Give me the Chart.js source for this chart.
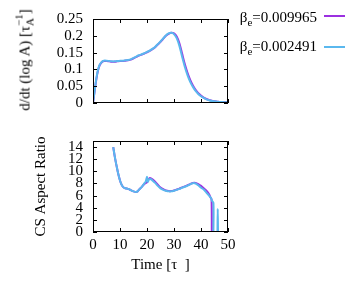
<!DOCTYPE html>
<html>
<head>
<meta charset="utf-8">
<script src="https://cdn.jsdelivr.net/npm/chart.js@4"></script>
<style>
body { margin: 0; background: #fff; }
#wrap { position: relative; width: 364px; height: 284px; font-family: "Liberation Serif", serif; color: #000; }
canvas { position: absolute; left: 0; }
#cTop { top: 0; }
#cBot { top: 122px; }
.ytitle { position: absolute; white-space: nowrap; font-size: 15px; line-height: 18px; transform: translate(-50%, -50%) rotate(-90deg); }
.ytitle .sb { font-size: 11px; position: relative; top: 4px; }
.ytitle .sp { font-size: 11px; position: relative; top: -7px; margin-left: -8px; }
.leg { position: absolute; right: 47px; font-size: 15px; line-height: 18px; white-space: nowrap; }
.leg .sb { font-size: 11px; position: relative; top: 4px; }
.sample { position: absolute; left: 324px; width: 21px; height: 2px; }
</style>
</head>
<body>
<div id="wrap">
  <canvas id="cTop" width="364" height="122"></canvas>
  <canvas id="cBot" width="364" height="162"></canvas>
  <div class="ytitle" style="left:25px; top:60px;">d/dt (log A) [τ<span class="sb">A</span><span class="sp">−1</span>]</div>
  <div class="leg" style="top:8px;">β<span class="sb">e</span>=0.009965</div>
  <div class="sample" style="top:15px; background:#9b30e0;"></div>
  <div class="leg" style="top:37px;">β<span class="sb">e</span>=0.002491</div>
  <div class="sample" style="top:46px; background:#5ab8ee;"></div>
</div>
<script>
// series labels
var labelPurple = 'βe=0.009965'
var labelBlue = 'βe=0.002491'

// top panel: growth rate
var topTime = [0, 0.5, 1, 1.5, 2, 2.5, 3, 3.5, 4, 5, 6, 7, 8, 9, 10, 11, 12, 13, 14, 15, 16, 17, 18, 19, 20,
   21, 22, 23, 24, 25, 26, 27, 28, 29, 30, 31, 32, 33, 34, 35, 36, 37, 38, 39, 40, 41, 42, 43, 44, 45, 46, 47, 48, 49, 50]
var topBlue = [0, 0.03, 0.06, 0.085, 0.103, 0.114, 0.120, 0.124, 0.126, 0.126, 0.125, 0.124, 0.124, 0.125, 0.1255,
   0.126, 0.127, 0.128, 0.130, 0.134, 0.138, 0.142, 0.145, 0.148, 0.152, 0.156, 0.161, 0.167, 0.175, 0.183, 0.192,
   0.201, 0.207, 0.209, 0.205, 0.193, 0.170, 0.138, 0.108, 0.083, 0.063, 0.048, 0.036, 0.027, 0.020, 0.015, 0.011,
   0.008, 0.006, 0.005, 0.004, 0.003, 0.003, 0.002, 0.002]
var topPurple = [0, 0.029, 0.058, 0.083, 0.101, 0.113, 0.119, 0.123, 0.125, 0.125, 0.124, 0.123, 0.123, 0.124, 0.125,
   0.125, 0.126, 0.127, 0.129, 0.133, 0.137, 0.141, 0.144, 0.147, 0.151, 0.155, 0.160, 0.166, 0.174, 0.182, 0.191,
   0.200, 0.206, 0.209, 0.207, 0.198, 0.178, 0.147, 0.116, 0.090, 0.069, 0.052, 0.039, 0.029, 0.022, 0.016, 0.012,
   0.009, 0.007, 0.005, 0.004, 0.003, 0.003, 0.002, 0.002]

// bottom panel: current sheet aspect ratio
var botTimeBlue = [7.5, 8, 8.5, 9, 9.5, 10, 10.5, 11, 11.5, 12, 13, 14, 15, 16, 16.5, 17, 18, 19, 19.5, 20, 20.3, 20.8,
   21.5, 22, 23, 24, 25, 26, 27, 28, 29, 30, 31, 32, 33, 34, 35, 36, 37, 38, 39, 40, 41, 42, 43, 43.7, 44, 44.6, 44.6,
   45.5, 46.1, 46.2, 46.3]
var botBlue = [14.0, 12.6, 11.4, 10.3, 9.3, 8.5, 7.9, 7.5, 7.3, 7.2, 7.1, 6.9, 6.7, 6.6, 6.7, 6.95, 7.4, 8.0, 8.3, 9.1, 8.3, 8.7,
   8.7, 8.5, 8.1, 7.6, 7.2, 6.95, 6.8, 6.7, 6.7, 6.8, 6.95, 7.1, 7.3, 7.45, 7.65, 7.85, 8.05, 8.0, 7.7, 7.3, 7.0, 6.5, 6.0,
   5.6, 5.2, 4.8, 0, null, 0, 3.8, 0]
var botTimePurple = [7.5, 8, 8.5, 9, 9.5, 10, 10.5, 11, 11.5, 12, 13, 14, 15, 16, 16.5, 17, 18, 19, 20, 20.5, 21, 21.5,
   22, 23, 24, 25, 26, 27, 28, 29, 30, 31, 32, 33, 34, 35, 36, 37, 38, 39, 40, 41, 42, 43, 43.5, 43.9, 44]
var botPurple = [14.0, 12.6, 11.4, 10.3, 9.3, 8.5, 7.9, 7.5, 7.3, 7.2, 7.1, 6.9, 6.7, 6.6, 6.7, 6.95, 7.4, 7.9, 8.2, 8.6, 8.9,
   8.85, 8.7, 8.3, 7.8, 7.35, 7.05, 6.85, 6.75, 6.75, 6.85, 7.0, 7.15, 7.35, 7.5, 7.7, 7.9, 8.1, 8.1, 7.9, 7.6, 7.2, 6.8,
   6.2, 5.7, 5.4, 0]

// ticks
var xTicks = [0, 10, 20, 30, 40, 50]
var xTickLabels = ['0', '10', '20', '30', '40', '50']
var topYTicks = [0, 0.05, 0.1, 0.15, 0.2, 0.25]
var topYTickLabels = ['0', '0.05', '0.1', '0.15', '0.2', '0.25']
var botYTicks = [0, 2, 4, 6, 8, 10, 12, 14]
var botYTickLabels = ['0', '2', '4', '6', '8', '10', '12', '14']

var purple = '#9b30e0'
var blue = '#5ab8ee'
var tickFont = { family: 'Liberation Serif', size: 15 }

function toPoints(xs, ys){
   var pts = []
   for (var i = 0; i < xs.length; i++) {
      pts.push({ x: xs[i], y: ys[i] })
   }
   return pts
}

// gnuplot style frame with inward ticks on all four sides
var framePlugin = {
   id: 'frame',
   afterDraw(chart, args, opts) {
      const ctx = chart.ctx
      const a = chart.chartArea
      const xs = chart.scales.x
      const ys = chart.scales.y
      ctx.save()
      ctx.strokeStyle = '#000'
      ctx.lineWidth = 1
      ctx.strokeRect(a.left + 0.5, a.top + 0.5, a.right - a.left - 1, a.bottom - a.top - 1)
      ctx.beginPath()
      for (const v of xTicks) {
         const px = Math.round(xs.getPixelForValue(v)) + 0.5
         ctx.moveTo(px, a.bottom); ctx.lineTo(px, a.bottom - 4)
         ctx.moveTo(px, a.top); ctx.lineTo(px, a.top + 4)
      }
      for (const v of opts.yTicks) {
         const py = Math.round(ys.getPixelForValue(v)) + 0.5
         ctx.moveTo(a.left, py); ctx.lineTo(a.left + 4, py)
         ctx.moveTo(a.right, py); ctx.lineTo(a.right - 4, py)
      }
      ctx.stroke()
      ctx.restore()
   }
}

function yScale(max, ticks, labels){
   return {
      type: 'linear', min: 0, max: max,
      afterBuildTicks: s => { s.ticks = ticks.map(v => ({ value: v })) },
      afterFit: s => { s.width = 93 },
      grid: { display: false, drawTicks: false },
      border: { display: false },
      ticks: { font: tickFont, color: '#000', padding: 10, autoSkip: false, callback: (v, i) => labels[i] }
   }
}

function lineSet(label, pts, color, order){
   return {
      label: label, data: pts, borderColor: color, borderWidth: 2,
      pointRadius: 0, tension: 0.3, spanGaps: false, order: order
   }
}

new Chart(document.getElementById('cTop'), {
   type: 'line',
   data: {
      datasets: [
         lineSet(labelPurple, toPoints(topTime, topPurple), purple, 1),
         lineSet(labelBlue, toPoints(topTime, topBlue), blue, 0)
      ]
   },
   options: {
      responsive: false, animation: false,
      layout: { padding: { top: 10, right: 136, bottom: 11, left: 0 } },
      plugins: { legend: { display: false }, tooltip: { enabled: false }, frame: { yTicks: topYTicks } },
      scales: {
         x: { type: 'linear', min: 0, max: 50, display: false },
         y: yScale(0.25, topYTicks, topYTickLabels)
      }
   },
   plugins: [framePlugin]
})

new Chart(document.getElementById('cBot'), {
   type: 'line',
   data: {
      datasets: [
         lineSet(labelPurple, toPoints(botTimePurple, botPurple), purple, 1),
         lineSet(labelBlue, toPoints(botTimeBlue, botBlue), blue, 0)
      ]
   },
   options: {
      responsive: false, animation: false,
      layout: { padding: { top: 7, right: 136, bottom: 0, left: 0 } },
      plugins: { legend: { display: false }, tooltip: { enabled: false }, frame: { yTicks: botYTicks } },
      scales: {
         x: {
            type: 'linear', min: 0, max: 50,
            afterBuildTicks: s => { s.ticks = xTicks.map(v => ({ value: v })) },
            afterFit: s => { s.height = 52 },
            grid: { display: false, drawTicks: false },
            border: { display: false },
            ticks: { font: tickFont, color: '#000', padding: 4, maxRotation: 0, autoSkip: false, callback: (v, i) => xTickLabels[i] },
            title: { display: true, text: 'Time [τ  ]', font: tickFont, color: '#000', padding: { top: 0, bottom: 10 } }
         },
         y: Object.assign(yScale(15, botYTicks, botYTickLabels), {
            title: { display: true, text: 'CS Aspect Ratio', font: tickFont, color: '#000', padding: { top: 32, bottom: 0 } }
         })
      }
   },
   plugins: [framePlugin]
})
</script>
</body>
</html>
